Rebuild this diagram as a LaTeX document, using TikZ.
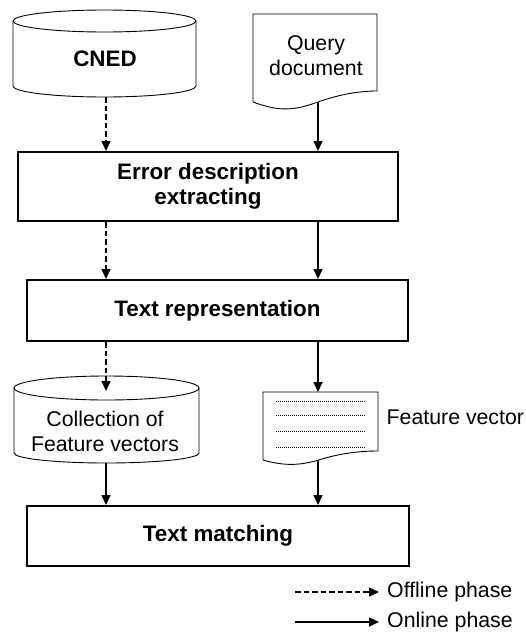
\documentclass[tikz,border=0pt]{standalone}
\usepackage{fontspec}
\setmainfont{Liberation Sans}
\usetikzlibrary{arrows.meta,calc}
\begin{document}
\begin{tikzpicture}[x=1pt,y=-1pt,
  procbox/.style={draw, line width=2pt, align=center, font=\bfseries\fontsize{22.4}{25}\selectfont, inner sep=0pt},
  shapeline/.style={line width=0.9pt},
  lbl/.style={align=center, font=\fontsize{21.3}{25}\selectfont, inner sep=0pt},
  boldlbl/.style={align=center, font=\bfseries\fontsize{22.4}{25}\selectfont, inner sep=0pt},
  onl/.style={line width=1.6pt, -{Triangle[length=10pt,width=9pt]}},
  offl/.style={onl, dash pattern=on 5.5pt off 3pt},
  fvline/.style={line width=0.6pt, dash pattern=on 1.4pt off 0.6pt},
]
\useasboundingbox (0,0) rectangle (526,632);

% CNED cylinder
\draw[shapeline, fill=white] (13,21) -- (13,86) arc[start angle=180, end angle=360, x radius=91.5pt, y radius=11pt] -- (196,21);
\draw[shapeline] (104.5,21) ellipse[x radius=91.5pt, y radius=11pt];
\node[boldlbl] (cned) at (105,59) {CNED};
\coordinate (cnedbot) at (106,97);

% Query document
\draw[shapeline, fill=white] (253,102) -- (253,14) -- (377,14) -- (377,91)
  .. controls (360,91) and (340,94) .. (315,103)
  .. controls (290,112) and (275,110) .. (253,102) -- cycle;
\node[lbl] (query) at (316,56) {Query\\document};
\coordinate (querybot) at (318,102);

% Process boxes
\node[procbox, minimum width=380pt, minimum height=69pt] (extract) at (208,186.5) {Error description\\extracting};
\node[procbox, minimum width=381pt, minimum height=61pt] (repr) at (217.5,310.5) {Text representation};
\node[procbox, minimum width=382pt, minimum height=60pt] (match) at (218,536) {Text matching};

% Collection cylinder
\draw[shapeline, fill=white] (14,388) -- (14,453) arc[start angle=180, end angle=360, x radius=92.5pt, y radius=10pt] -- (199,388);
\draw[shapeline] (106.5,388) ellipse[x radius=92.5pt, y radius=12pt];
\node[lbl] (coll) at (105,431.5) {Collection of\\Feature vectors};
\coordinate (colltop) at (106,391);
\coordinate (collbot) at (106,463);

% Feature vector document
\draw[shapeline, fill=white] (263,460) -- (263,392) -- (378,392) -- (378,451)
  .. controls (361,451) and (342,453) .. (322,459)
  .. controls (300,466) and (284,466) .. (263,460) -- cycle;
\foreach \yy in {401,415,431,447} \draw[fvline] (276,\yy) -- (365,\yy);
\node[lbl, anchor=west] (fv) at (386.5,417) {Feature vector};
\coordinate (fvtop) at (318,392);
\coordinate (fvbot) at (318,460);

% Connectors
\draw[offl] (cnedbot) -- (cnedbot |- extract.north);
\draw[onl] (querybot) -- (querybot |- extract.north);
\draw[offl] (extract.south -| cnedbot) -- (repr.north -| cnedbot);
\draw[onl] (extract.south -| querybot) -- (repr.north -| querybot);
\draw[offl] (repr.south -| cnedbot) -- (colltop);
\draw[onl] (repr.south -| querybot) -- (fvtop);
\draw[onl] (collbot) -- (collbot |- match.north);
\draw[onl] (fvbot) -- (fvbot |- match.north);

% Legend
\coordinate (offs) at (295,592);
\coordinate (offe) at (379,592);
\coordinate (ons) at (295,622);
\coordinate (one) at (379,622);
\draw[offl] (offs) -- (offe);
\node[lbl, anchor=west] (offtxt) at (387,592) {Offline phase};
\draw[onl] (ons) -- (one);
\node[lbl, anchor=west] (ontxt) at (387,622) {Online phase};
\end{tikzpicture}
\end{document}
